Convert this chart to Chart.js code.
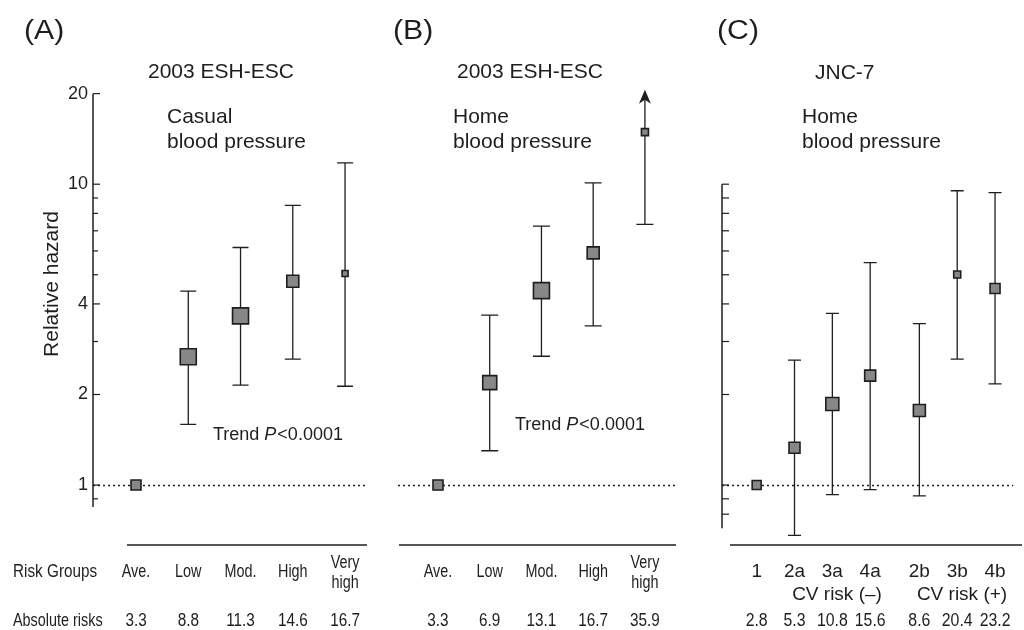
<!DOCTYPE html>
<html>
<head>
<meta charset="utf-8">
<script src="https://cdn.jsdelivr.net/npm/chart.js@4/dist/chart.umd.min.js"></script>
<style>
    html, body { margin: 0; padding: 0; background: #fff; }
    #wrap { position: relative; width: 1024px; height: 630px; }
    canvas { position: absolute; left: 0; top: 0; }
</style>
</head>
<body>
<div id="wrap">
    <canvas id="chartA" width="1024" height="630"></canvas>
    <canvas id="chartB" width="1024" height="630"></canvas>
    <canvas id="chartC" width="1024" height="630"></canvas>
</div>
<script>
// data (relative hazard, 95% CI)
const groupsAB = ['Ave.', 'Low', 'Mod.', 'High', 'Very\nhigh'];
const absRiskA = ['3.3', '8.8', '11.3', '14.6', '16.7'];
const absRiskB = ['3.3', '6.9', '13.1', '16.7', '35.9'];

const hazardA = [1, 2.67, 3.65, 4.76, 5.05];
const lowerA = [null, 1.59, 2.15, 2.62, 2.13];
const upperA = [null, 4.41, 6.16, 8.51, 11.77];

const hazardB = [1, 2.19, 4.43, 5.91, 14.9];
const lowerB = [null, 1.30, 2.68, 3.38, 7.35];
const upperB = [null, 3.67, 7.25, 10.1, 20.6];   // last one runs off the scale (arrow)

const groupsC = ['1', '2a', '3a', '4a', '2b', '3b', '4b'];
const absRiskC = ['2.8', '5.3', '10.8', '15.6', '8.6', '20.4', '23.2'];
const hazardC = [1, 1.33, 1.86, 2.31, 1.77, 5.01, 4.50];
const lowerC = [null, 0.68, 0.93, 0.965, 0.92, 2.62, 2.17];
const upperC = [null, 2.60, 3.72, 5.49, 3.44, 9.51, 9.38];

// square size ~ study weight
const sizeA = [10, 16, 16, 12, 6];
const sizeB = [10, 14, 16, 12, 7];
const sizeC = [9, 11, 13, 11, 12, 7, 10];

const yMajorA = [1, 2, 4, 10, 20];
const yMinorA = [0.9, 3, 5, 6, 7, 8, 9];
const yTicksC = [0.8, 0.9, 1, 2, 3, 4, 5, 6, 7, 8, 9, 10];

const INK = '#1e1e1e';
const FONT = '"Liberation Sans", Arial, Helvetica, sans-serif';

function text(ctx, str, x, y, opt = {}) {
    ctx.save();
    ctx.font = (opt.style || '') + ' ' + (opt.size || 18) + 'px ' + FONT;
    ctx.fillStyle = INK;
    ctx.textAlign = opt.align || 'left';
    ctx.textBaseline = 'middle';
    ctx.translate(x, y);
    if (opt.rot) ctx.rotate(opt.rot);
    ctx.scale(opt.sx || 1, 1);
    ctx.fillText(str, 0, 0);
    ctx.restore();
}

const panelPlugin = {
    id: 'panel',
    beforeDatasetsDraw(chart, args, o) {
        const ctx = chart.ctx;
        const xs = chart.scales.x, ys = chart.scales.y;
        const area = chart.chartArea;
        ctx.save();
        ctx.strokeStyle = INK;
        ctx.lineCap = 'butt';

        // reference line at hazard = 1
        ctx.lineWidth = 1.3;
        ctx.setLineDash([2, 3]);
        const y1 = Math.round(ys.getPixelForValue(1)) + 0.5;
        ctx.beginPath();
        ctx.moveTo(area.left, y1);
        ctx.lineTo(area.right, y1);
        ctx.stroke();
        ctx.setLineDash([]);

        // baseline under the plot
        ctx.lineWidth = 1.6;
        ctx.beginPath();
        ctx.moveTo(o.baseFrom, area.bottom);
        ctx.lineTo(o.baseTo, area.bottom);
        ctx.stroke();

        // y axis with inward ticks
        if (o.axis) {
            const ax = area.left;
            ctx.lineWidth = 1.5;
            ctx.beginPath();
            ctx.moveTo(ax, ys.getPixelForValue(o.axis.from));
            ctx.lineTo(ax, ys.getPixelForValue(o.axis.to));
            ctx.stroke();
            ctx.lineWidth = 1.2;
            o.axis.major.forEach(v => {
                const py = ys.getPixelForValue(v);
                ctx.beginPath();
                ctx.moveTo(ax, py);
                ctx.lineTo(ax + 7, py);
                ctx.stroke();
                if (o.axis.labels) text(ctx, String(v), ax - 5, py, { size: 18, align: 'right' });
            });
            (o.axis.minor || []).forEach(v => {
                const py = ys.getPixelForValue(v);
                ctx.beginPath();
                ctx.moveTo(ax, py);
                ctx.lineTo(ax + 5, py);
                ctx.stroke();
            });
        }

        // confidence intervals
        ctx.lineWidth = 1.3;
        o.hazard.forEach((h, i) => {
            if (o.lower[i] == null) return;
            const px = xs.getPixelForValue(o.xs[i]);
            const lo = ys.getPixelForValue(o.lower[i]);
            const hi = ys.getPixelForValue(o.upper[i]);
            const c = o.cap / 2;
            const open = (o.open || []).includes(i);
            ctx.beginPath();
            ctx.moveTo(px, lo);
            ctx.lineTo(px, open ? hi + 6 : hi);
            ctx.moveTo(px - c, lo);
            ctx.lineTo(px + c, lo);
            if (!open) {
                ctx.moveTo(px - c, hi);
                ctx.lineTo(px + c, hi);
            }
            ctx.stroke();
            if (open) {
                ctx.fillStyle = INK;
                ctx.beginPath();
                ctx.moveTo(px, hi);
                ctx.lineTo(px - 6, hi + 14);
                ctx.lineTo(px, hi + 10);
                ctx.lineTo(px + 6, hi + 14);
                ctx.closePath();
                ctx.fill();
            }
        });
        ctx.restore();
    },
    afterDraw(chart, args, o) {
        const ctx = chart.ctx;
        const xs = chart.scales.x;
        (o.texts || []).forEach(t => text(ctx, t.s, t.x, t.y, t));

        // category rows under the plot
        o.groups.forEach((g, i) => {
            const px = xs.getPixelForValue(o.xs[i]);
            const lines = g.split('\n');
            if (lines.length > 1) {
                text(ctx, lines[0], px, 563, { size: o.catSize, align: 'center', sx: o.catSx });
                text(ctx, lines[1], px, 583, { size: o.catSize, align: 'center', sx: o.catSx });
            } else {
                text(ctx, g, px, 572, { size: o.catSize, align: 'center', sx: o.catSx });
            }
            text(ctx, o.absRisk[i], px, 621, { size: 18, align: 'center', sx: o.numSx });
        });

        if (o.trend) {
            const x = o.trend.x;
            const y = o.trend.y;
            ctx.save();
            ctx.font = '18px ' + FONT;
            const w1 = ctx.measureText('Trend ').width;
            ctx.font = 'italic 18px ' + FONT;
            const w2 = ctx.measureText('P').width;
            ctx.restore();
            text(ctx, 'Trend ', x, y, { size: 18 });
            text(ctx, 'P', x + w1, y, { size: 18, style: 'italic' });
            text(ctx, '<0.0001', x + w1 + w2 + 1, y, { size: 18 });
        }
    }
};

function makePanel(id, o) {
    return new Chart(document.getElementById(id), {
        type: 'scatter',
        data: {
            datasets: [{
                data: o.hazard.map((h, i) => ({ x: o.xs[i], y: h })),
                pointStyle: 'rect',
                pointRadius: o.sizes.map(s => s / Math.SQRT2),
                backgroundColor: '#878787',
                borderColor: INK,
                borderWidth: 1.6
            }]
        },
        options: {
            responsive: false,
            animation: false,
            events: [],
            layout: { padding: { left: o.left, right: 1024 - o.right, top: 80, bottom: 630 - 545 } },
            scales: {
                x: { type: 'linear', display: false, bounds: 'data', min: o.xmin, max: o.xmax },
                y: { type: 'logarithmic', display: false, bounds: 'data', min: 0.632, max: 22.2 }
            },
            plugins: {
                legend: { display: false },
                tooltip: { enabled: false },
                panel: o
            }
        },
        plugins: [panelPlugin]
    });
}

makePanel('chartA', {
    left: 93, right: 367, xmin: -0.823, xmax: 4.42,
    xs: groupsAB.map((g, i) => i),
    hazard: hazardA, lower: lowerA, upper: upperA, sizes: sizeA, cap: 16,
    groups: groupsAB, absRisk: absRiskA, catSize: 18, catSx: 0.8, numSx: 0.85,
    baseFrom: 127, baseTo: 367,
    axis: { from: 0.845, to: 20, major: yMajorA, minor: yMinorA, labels: true },
    trend: { x: 213, y: 435 },
    texts: [
        { s: '(A)', x: 24, y: 32, size: 27, sx: 1.12 },
        { s: '2003 ESH-ESC', x: 148, y: 72, size: 21 },
        { s: 'Casual', x: 167, y: 117, size: 21 },
        { s: 'blood pressure', x: 167, y: 142, size: 21 },
        { s: 'Relative hazard', x: 52, y: 284, size: 21, align: 'center', rot: -Math.PI / 2 },
        { s: 'Risk Groups', x: 13, y: 572, size: 18, sx: 0.85 },
        { s: 'Absolute risks', x: 13, y: 621, size: 18, sx: 0.8 }
    ]
});

makePanel('chartB', {
    left: 398, right: 677, xmin: -0.773, xmax: 4.62,
    xs: groupsAB.map((g, i) => i),
    hazard: hazardB, lower: lowerB, upper: upperB, sizes: sizeB, cap: 17, open: [4],
    groups: groupsAB, absRisk: absRiskB, catSize: 18, catSx: 0.8, numSx: 0.85,
    baseFrom: 399, baseTo: 676,
    trend: { x: 515, y: 425 },
    texts: [
        { s: '(B)', x: 393, y: 32, size: 27, sx: 1.12 },
        { s: '2003 ESH-ESC', x: 457, y: 72, size: 21 },
        { s: 'Home', x: 453, y: 117, size: 21 },
        { s: 'blood pressure', x: 453, y: 142, size: 21 }
    ]
});

makePanel('chartC', {
    left: 722, right: 1024, xmin: -0.916, xmax: 6.78,
    xs: groupsC.map((g, i) => i + (i >= 4 ? 0.3 : 0)),
    hazard: hazardC, lower: lowerC, upper: upperC, sizes: sizeC, cap: 13,
    groups: groupsC, absRisk: absRiskC, catSize: 19, catSx: 1, numSx: 0.88,
    baseFrom: 730, baseTo: 1022,
    axis: { from: 0.718, to: 10, major: yTicksC, labels: false },
    texts: [
        { s: '(C)', x: 717, y: 32, size: 27, sx: 1.12 },
        { s: 'JNC-7', x: 815, y: 73, size: 21 },
        { s: 'Home', x: 802, y: 117, size: 21 },
        { s: 'blood pressure', x: 802, y: 142, size: 21 },
        { s: 'CV risk (\u2013)', x: 837, y: 595, size: 19, align: 'center' },
        { s: 'CV risk (+)', x: 962, y: 595, size: 19, align: 'center' }
    ]
});
</script>
</body>
</html>
